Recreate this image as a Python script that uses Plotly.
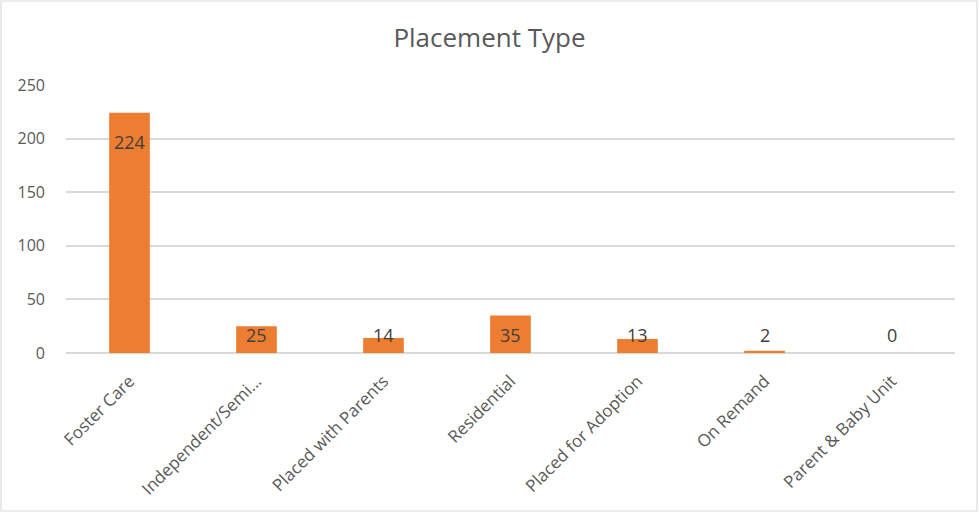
import plotly.graph_objects as go

categories = ["Foster Care", "Independent/Semi...", "Placed with Parents", "Residential",
              "Placed for Adoption", "On Remand", "Parent & Baby Unit"]
values = [224, 25, 14, 35, 13, 2, 0]
y_ticks = [0, 50, 100, 150, 200, 250]

W, H = 979, 513
ml, mr, mt, mb = 66, 24, 85, 160
FONT = "Open Sans, Liberation Sans"

fig = go.Figure(go.Bar(x=categories, y=values, marker_color="#ED7D31",
                       marker_line_width=0, width=0.32, hoverinfo="skip"))

annotations = []
for c, v in zip(categories, values):
    annotations.append(dict(x=c, y=max(v - 14, 30), xref="x", yref="y", text=str(v),
                            showarrow=False, yanchor="top",
                            font=dict(family=FONT, size=18, color="#404040")))

pw = W - ml - mr
ph = H - mt - mb
fig.update_layout(
    width=W, height=H,
    margin=dict(l=ml, r=mr, t=mt, b=mb),
    paper_bgcolor="white", plot_bgcolor="white",
    title=dict(text="Placement Type", x=0.5, xref="container", xanchor="center",
               y=1 - 38 / H, yanchor="middle",
               font=dict(family=FONT, size=26, color="#595959")),
    font=dict(family=FONT, size=16, color="#595959"),
    showlegend=False,
    annotations=annotations,
    shapes=[dict(type="rect", xref="paper", yref="paper",
                 x0=(1 - ml) / pw, x1=(W - 2 - ml) / pw,
                 y0=-(mb - 2) / ph, y1=1 + (mt - 1) / ph,
                 line=dict(color="#D9D9D9", width=1.2), layer="below")],
)
fig.update_yaxes(range=[0, 250], tickvals=y_ticks, showgrid=True, gridcolor="#D9D9D9",
                 gridwidth=1.8, zeroline=True, zerolinecolor="#D9D9D9", zerolinewidth=1.8,
                 showline=False, ticks="", ticklabelstandoff=20,
                 tickfont=dict(size=16, color="#595959"))
fig.update_xaxes(tickangle=-45, showline=False, ticks="", ticklabelstandoff=14,
                 tickfont=dict(size=17, color="#595959"))

fig.write_html("out.html", config={"displayModeBar": False},
               post_script="document.body.style.margin='0px';")
